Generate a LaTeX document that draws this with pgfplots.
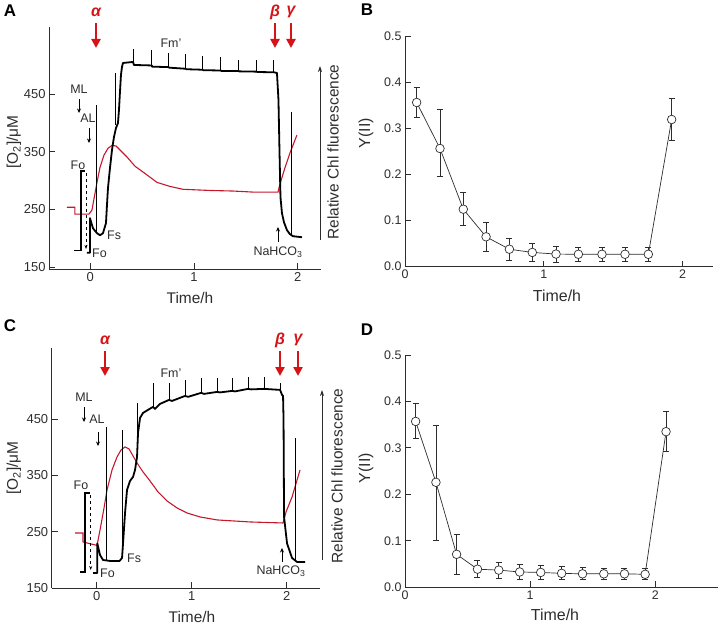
\documentclass[border=0pt]{standalone}
\usepackage{fontspec}
\setmainfont{Liberation Sans}
\usepackage{pgfplots}
\pgfplotsset{compat=1.18}
\usetikzlibrary{arrows.meta}
\definecolor{tr}{RGB}{196,24,44}
\definecolor{ar}{RGB}{214,20,24}
\definecolor{ax}{RGB}{45,45,45}
\newcommand\fs[1]{\fontsize{#1}{#1}\selectfont}
\pgfplotsset{
 panel/.style={scale only axis, anchor=south west, clip=false,
  axis x line*=bottom, axis y line*=left, tick align=inside,
  major tick length=6bp, axis line style={ax, line width=0.9bp},
  tick style={ax, line width=0.9bp},
  ticklabel style={font=\fs{13}, text=ax},
  /pgf/number format/assume math mode=true,
  unbounded coords=jump},
 yld/.style={panel, ytick={0,0.1,0.2,0.3,0.4,0.5}, xtick={0,1,2}, ymin=0, ymax=0.5, xmin=0,
  yticklabel style={/pgf/number format/.cd, fixed, fixed zerofill, precision=1, assume math mode=true},
  ticklabel style={font=\fs{12.5}, text=ax}},
 ydata/.style={ax, line width=0.7bp, mark=*, mark size=4.3bp,
  mark options={fill=white, draw=ax, line width=0.7bp},
  error bars/.cd, y dir=both, y explicit,
  error bar style={line width=0.7bp, ax},
  error mark options={rotate=90, mark size=3bp, line width=0.7bp, ax}},
}
\begin{document}
\begin{tikzpicture}
\path[use as bounding box] (0,0) rectangle (722bp,-625bp);
%%%%%%%% Panel A
\begin{axis}[panel, at={(49bp,-269bp)}, width=272bp, height=242bp,
  xmin=-0.398, xmax=2.225, ymin=147, ymax=566, xtick={0,1,2}, ytick={150,250,350,450}]
\addplot[tr, line width=1.1bp] coordinates {(-0.225,254)(-0.148,254)(-0.148,242)(-0.013,242)(0.016,249)(0.065,297)(0.094,323)(0.132,344)(0.171,356)(0.209,361)(0.248,360)(0.287,353)(0.354,341)(0.431,325)(0.508,315)(0.576,306)(0.643,297)(0.769,290)(0.894,285)(1.154,283)(1.376,282)(1.588,280)(1.810,280)(1.829,294)(1.877,322)(1.926,348)(1.993,379)};
\addplot[black, line width=1.4bp] coordinates {(-0.1572,179.5)(-0.0897,179.5)(-0.0897,316.5)(-0.0511,316.5)};
\addplot[black, line width=1.8bp, line join=round] coordinates {(-0.0318,175.1)(-0.0029,175.1)(-0.0029,235.0)(0.026,217.6)(0.0646,209.0)(0.0935,205.5)(0.1225,209.0)(0.1514,226.3)(0.161,257.5)(0.1707,287.0)(0.19,321.7)(0.2093,352.9)(0.2285,375.4)(0.2478,391.0)(0.2671,399.7)(0.2768,422.2)(0.2864,453.5)(0.296,482.9)(0.3057,496.8)(0.3153,503.7)(0.4118,505.5)(0.4214,500.3)(0.595,499.4)(0.595,497.4)(0.7589,496.5)(0.7589,495.6)(0.9229,493.7)(0.9229,492.9)(1.0868,492.0)(1.0868,491.2)(1.2604,490.7)(1.2604,490.0)(1.4339,489.9)(1.4339,489.2)(1.6075,488.7)(1.6075,488.1)(1.7715,487.6)(1.8004,486.4)(1.8149,439.6)(1.8245,352.9)(1.8342,271.4)(1.8486,243.6)(1.8679,228.0)(1.8969,214.2)(1.9258,207.2)(1.9547,203.8)(2.0415,202.0)};
\addplot[black, line width=1bp] coordinates {(0.0646,210.7)(0.0646,430.9)(0.0646,nan)(0.2478,396.2)(0.2478,485.5)(0.2478,nan)(0.4214,500.3)(0.4214,528.0)(0.4214,nan)(0.595,497.4)(0.595,526.3)(0.595,nan)(0.7589,495.6)(0.7589,521.1)(0.7589,nan)(0.9229,492.9)(0.9229,519.3)(0.9229,nan)(1.0868,491.2)(1.0868,515.9)(1.0868,nan)(1.2604,490.0)(1.2604,514.1)(1.2604,nan)(1.4339,489.2)(1.4339,508.9)(1.4339,nan)(1.6075,488.1)(1.6075,508.9)(1.6075,nan)(1.7715,487.6)(1.7715,508.9)(1.7715,nan)(1.945,203.8)(1.945,418.8)};
\end{axis}
%%%%%%%% Panel C
\begin{axis}[panel, at={(51.7bp,-588.3bp)}, width=268.3bp, height=240bp,
  xmin=-0.474, xmax=2.35, ymin=149.5, ymax=576, xtick={0,1,2}, ytick={150,250,350,450}]
\addplot[tr, line width=1.1bp] coordinates {(-0.2284,247.8)(-0.1442,247.8)(-0.1442,231.8)(0.0032,225.7)(0.0347,253.2)(0.0768,292.3)(0.1084,324.3)(0.1611,359.9)(0.2137,383.0)(0.2558,395.4)(0.2979,400.7)(0.34,397.2)(0.3821,384.7)(0.4242,372.3)(0.4874,356.3)(0.5611,340.3)(0.6453,320.7)(0.74,304.7)(0.8453,292.3)(0.9505,283.4)(1.0874,276.3)(1.2663,271.0)(1.6137,267.4)(1.9611,265.6)(1.9926,285.2)(2.0558,311.8)(2.14,359.9)};
\addplot[black, line width=1.4bp] coordinates {(-0.1758,178.5)(-0.1232,178.5)(-0.1232,319.0)(-0.0705,319.0)};
\addplot[black, line width=1.8bp, line join=round] coordinates {(-0.0389,176.7)(0.0063,176.7)(0.0063,229.2)(0.0347,208.7)(0.0663,199.8)(0.14,198.1)(0.24,198.1)(0.2663,203.4)(0.2768,229.2)(0.2979,283.4)(0.3189,324.3)(0.3505,340.3)(0.3821,347.4)(0.4032,359.9)(0.4242,383.0)(0.4347,425.6)(0.4558,452.3)(0.4874,461.2)(0.54,466.6)(0.5926,471.9)(0.6137,468.3)(0.6663,477.2)(0.7611,484.3)(0.7926,482.5)(0.9295,491.4)(0.9611,489.7)(1.0979,496.8)(1.1295,495.0)(1.2663,498.5)(1.2979,497.6)(1.4242,500.3)(1.4558,499.4)(1.5926,503.9)(1.6242,503.0)(1.7611,503.9)(1.9295,502.1)(1.9505,493.2)(1.9611,491.4)(1.9663,448.8)(1.9716,276.3)(2.0032,229.2)(2.0558,203.4)(2.1084,196.3)(2.1926,196.3)};
\addplot[black, line width=1bp] coordinates {(0.0979,199.8)(0.0979,436.3)(0.0979,nan)(0.2663,203.4)(0.2663,431.0)(0.2663,nan)(0.4242,383.0)(0.4242,479.0)(0.4242,nan)(0.5926,471.9)(0.5926,514.5)(0.5926,nan)(0.7611,484.3)(0.7611,514.5)(0.7611,nan)(0.9295,491.4)(0.9295,519.9)(0.9295,nan)(1.0979,496.8)(1.0979,523.4)(1.0979,nan)(1.2663,498.5)(1.2663,523.4)(1.2663,nan)(1.4242,500.3)(1.4242,523.4)(1.4242,nan)(1.5926,503.9)(1.5926,525.2)(1.5926,nan)(1.7611,503.9)(1.7611,525.2)(1.7611,nan)(1.9295,502.1)(1.9295,514.5)(1.9295,nan)(2.0874,199.8)(2.0874,416.8)};
\end{axis}
%%%%%%%% Panel B
\begin{axis}[yld, at={(405bp,-266.7bp)}, width=308.3bp, height=230bp, xmax=2.221]
\addplot[ydata] table[x=x, y=y, y error plus=ep, y error minus=em] {
x y ep em
0.084 0.357 0.033 0.032
0.252 0.257 0.084 0.061
0.420 0.125 0.037 0.036
0.584 0.065 0.031 0.031
0.752 0.038 0.023 0.0235
0.917 0.031 0.019 0.019
1.088 0.0275 0.0175 0.0185
1.249 0.027 0.015 0.016
1.419 0.027 0.014 0.015
1.585 0.027 0.014 0.015
1.753 0.027 0.015 0.015
1.921 0.320 0.046 0.046
};
\end{axis}
%%%%%%%% Panel D
\begin{axis}[yld, at={(405bp,-587.3bp)}, width=313bp, height=232.3bp, xmax=2.5]
\addplot[ydata] table[x=x, y=y, y error plus=ep, y error minus=em] {
x y ep em
0.085 0.357 0.038 0.036
0.247 0.226 0.123 0.124
0.412 0.071 0.044 0.044
0.579 0.039 0.018 0.0175
0.749 0.037 0.016 0.018
0.916 0.033 0.017 0.0165
1.084 0.032 0.015 0.0155
1.251 0.030 0.0145 0.0135
1.418 0.029 0.013 0.0125
1.588 0.029 0.012 0.012
1.753 0.029 0.012 0.012
1.918 0.028 0.013 0.011
2.085 0.335 0.043 0.043
};
\end{axis}
%%%%%%%% Annotations
\begin{scope}[x=1bp, y=-1bp, text=ax]
% panel letters
\node[font=\fs{17}\bfseries, text=black] at (10,11) {A};
\node[font=\fs{17}\bfseries, text=black] at (367,10) {B};
\node[font=\fs{17}\bfseries, text=black] at (10,326) {C};
\node[font=\fs{17}\bfseries, text=black] at (367,330) {D};
% axis labels
\node[font=\fs{15.5}] at (190,298) {Time/h};
\node[font=\fs{15.5}] at (192,617) {Time/h};
\node[font=\fs{16}] at (557,296) {Time/h};
\node[font=\fs{16}] at (555,615) {Time/h};
\node[font=\fs{15.5}, rotate=90] at (14,142) {[O\textsubscript{2}]/μM};
\node[font=\fs{15.5}, rotate=90] at (14,468) {[O\textsubscript{2}]/μM};
\node[font=\fs{16}, rotate=90] at (366,133) {Y(II)};
\node[font=\fs{16}, rotate=90] at (366,468) {Y(II)};
% Relative Chl fluorescence
\node[font=\fs{15.5}, rotate=90] at (333,152) {Relative Chl fluorescence};
\draw[ax, line width=0.8bp, -{Stealth[length=6bp,width=4bp]}] (320,240) -- (320,66);
\node[font=\fs{15.5}, rotate=90] at (337,476) {Relative Chl fluorescence};
\draw[ax, line width=0.8bp, -{Stealth[length=6bp,width=4bp]}] (322,560) -- (322,390);
% red arrows A
\foreach \xx/\ll in {96/α, 275/β, 291/γ} {
  \draw[ar, line width=2.4bp, -{Triangle[length=9bp,width=9bp]}] (\xx,23) -- (\xx,48);
  \node[ar, font=\fs{16}\bfseries\itshape] at (\xx,12) {\ll};
}
\foreach \xx/\ll in {105/α, 280/β, 298/γ} {
  \draw[ar, line width=2.4bp, -{Triangle[length=9bp,width=9bp]}] (\xx,351) -- (\xx,376);
  \node[ar, font=\fs{16}\bfseries\itshape] at (\xx,340) {\ll};
}
% labels A
\node[font=\fs{12.5}] at (79,89) {ML};
\draw[black, line width=0.8bp, -{Stealth[length=4.5bp,width=4bp]}] (79,99) -- (79,113);
\node[font=\fs{12.5}] at (88,118) {AL};
\draw[black, line width=0.8bp, -{Stealth[length=4.5bp,width=4bp]}] (89,128) -- (89,143);
\node[font=\fs{12.5}] at (78,165) {Fo};
\node[font=\fs{12.5}, anchor=west, inner sep=0] at (92,253) {Fo};
\node[font=\fs{12.5}, anchor=west, inner sep=0] at (107,235) {Fs};
\node[font=\fs{12.5}] at (171,43) {Fm'};
\node[font=\fs{12.5}] at (278,252) {NaHCO\textsubscript{3}};
\draw[black, line width=0.8bp, -{Stealth[length=4.5bp,width=4bp]}] (278,242) -- (278,227);
\draw[black, line width=0.7bp, dashed, -{Stealth[length=4bp,width=3bp]}] (86,173) -- (86,249);
% labels C
\node[font=\fs{12.5}] at (84,397) {ML};
\draw[black, line width=0.8bp, -{Stealth[length=4.5bp,width=4bp]}] (84,407) -- (84,422);
\node[font=\fs{12.5}] at (97,419) {AL};
\draw[black, line width=0.8bp, -{Stealth[length=4.5bp,width=4bp]}] (98,432) -- (98,446);
\node[font=\fs{12.5}] at (81,485) {Fo};
\node[font=\fs{12.5}, anchor=west, inner sep=0] at (100,573) {Fo};
\node[font=\fs{12.5}, anchor=west, inner sep=0] at (127,558) {Fs};
\node[font=\fs{12.5}] at (171,373) {Fm'};
\node[font=\fs{12.5}] at (281,571) {NaHCO\textsubscript{3}};
\draw[black, line width=0.8bp, -{Stealth[length=4.5bp,width=4bp]}] (282,562) -- (282,548);
\draw[black, line width=0.7bp, dashed, -{Stealth[length=4bp,width=3bp]}] (90.7,495) -- (90.7,570);
\end{scope}
\end{tikzpicture}
\end{document}
